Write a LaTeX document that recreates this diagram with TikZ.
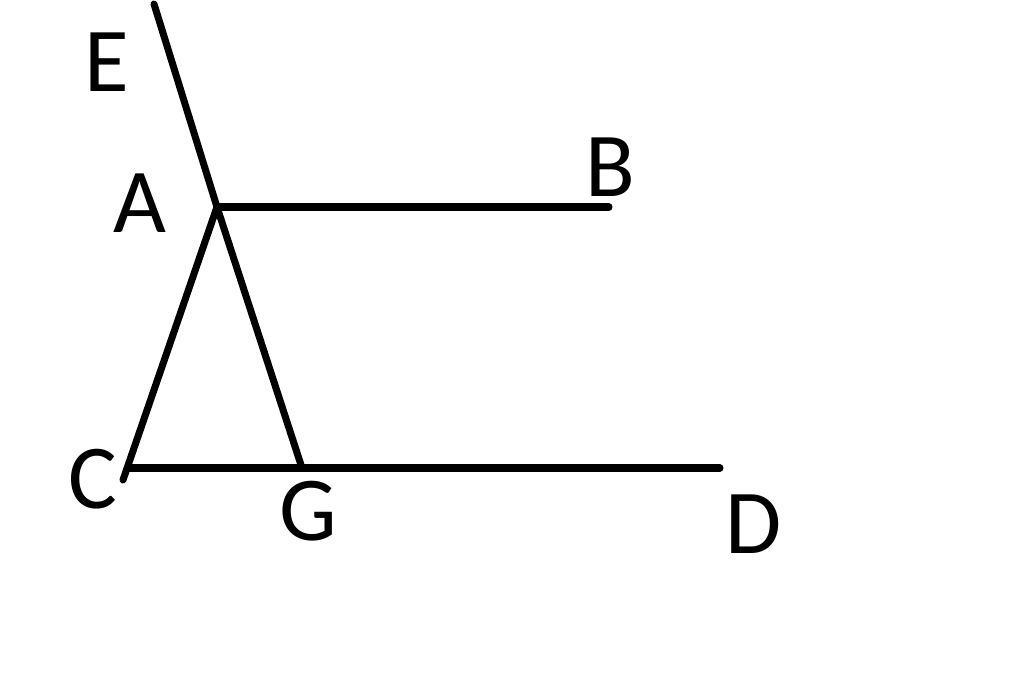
\documentclass[tikz,border=0pt]{standalone}
\usepackage{fontspec}
\setmainfont{Carlito}
\usepackage{tikz}
\usetikzlibrary{positioning}

\begin{document}
\begin{tikzpicture}
\tikzstyle{seg} = [line width=2pt, line cap=round, black]
\tikzstyle{lbl} = [inner sep=0pt, font=\fontsize{26}{30}\selectfont]

\useasboundingbox (0,0) rectangle (10.24,6.93);

\coordinate (Etop) at (1.54,6.89);
\coordinate (A) at (2.17,4.86);
\coordinate (B) at (6.09,4.86);
\coordinate (Cend) at (1.23,2.13);
\coordinate (C) at (1.28,2.25);
\coordinate (G) at (3.02,2.25);
\coordinate (D) at (7.20,2.25);

\draw [seg] (Etop) -- (A) -- (G);
\draw [seg] (A) -- (B);
\draw [seg] (A) -- (Cend);
\draw [seg] (C) -- (D);

\node (lE) [lbl] at (1.07,6.31) {E};
\node (lA) [lbl] at (1.40,4.90) {A};
\node (lB) [lbl] at (6.10,5.26) {B};
\node (lC) [lbl] at (0.93,2.14) {C};
\node (lG) [lbl] at (3.08,1.82) {G};
\node (lD) [lbl] at (7.54,1.69) {D};

\end{tikzpicture}
\end{document}
